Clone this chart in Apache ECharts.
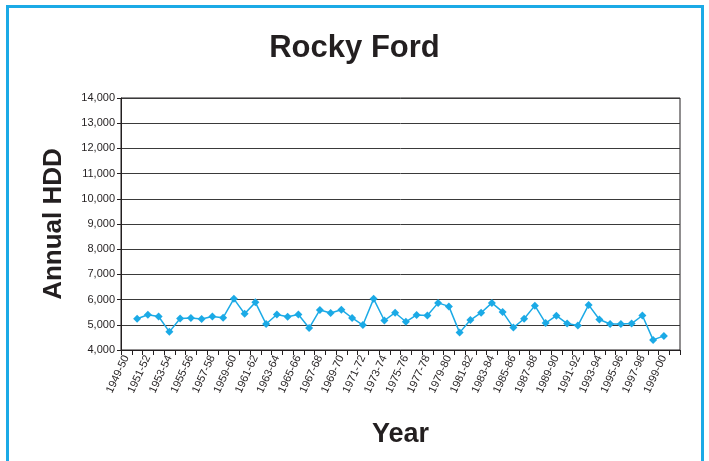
<!DOCTYPE html>
<html>
<head>
<meta charset="utf-8">
<script src="https://cdn.jsdelivr.net/npm/echarts@6/dist/echarts.min.js"></script>
<style>
  html, body { margin: 0; padding: 0; background: #fff; }
  #chart { width: 709px; height: 461px; }
</style>
</head>
<body>
<div id="chart"></div>
<script>
// Heating seasons shown on the category axis
const seasons = [
  '1949-50','1950-51','1951-52','1952-53','1953-54','1954-55','1955-56','1956-57',
  '1957-58','1958-59','1959-60','1960-61','1961-62','1962-63','1963-64','1964-65',
  '1965-66','1966-67','1967-68','1968-69','1969-70','1970-71','1971-72','1972-73',
  '1973-74','1974-75','1975-76','1976-77','1977-78','1978-79','1979-80','1980-81',
  '1981-82','1982-83','1983-84','1984-85','1985-86','1986-87','1987-88','1988-89',
  '1989-90','1990-91','1991-92','1992-93','1993-94','1994-95','1995-96','1996-97',
  '1997-98','1998-99','1999-00','2000-01'
];

// Annual heating degree days (null = no record)
const annualHDD = [
  null, 5240, 5400, 5330, 4720, 5250, 5270, 5230,
  5330, 5280, 6030, 5440, 5890, 5030, 5410, 5320,
  5410, 4870, 5590, 5470, 5600, 5270, 4990, 6030,
  5170, 5480, 5120, 5390, 5370, 5870, 5730, 4690,
  5190, 5480, 5870, 5510, 4890, 5240, 5760, 5070,
  5360, 5050, 4970, 5790, 5210, 5030, 5030, 5050,
  5370, 4400, 4560, null
];

const yMin = 4000, yMax = 14000, yStep = 1000;

const chart = echarts.init(document.getElementById('chart'), null, { renderer: 'canvas' });

const fontFamily = '"Liberation Sans", Arial, sans-serif';
const ink = '#231f20';
const lineBlue = '#1BAAE6';

chart.setOption({
  animation: false,
  backgroundColor: '#ffffff',
  graphic: [{
    type: 'rect',
    shape: { x: 7.5, y: 6.5, width: 695, height: 470 },
    style: { fill: 'none', stroke: lineBlue, lineWidth: 3 },
    silent: true
  }],
  title: {
    text: 'Rocky Ford',
    left: 'center',
    top: 28,
    textStyle: { fontFamily, fontSize: 31, fontWeight: 'bold', color: ink }
  },
  grid: { left: 121, right: 29, top: 98, bottom: 111, containLabel: false,
          show: true, borderColor: ink, borderWidth: 1, backgroundColor: 'transparent' },
  xAxis: {
    type: 'category',
    data: seasons,
    boundaryGap: true,
    name: 'Year',
    nameLocation: 'middle',
    nameGap: 71,
    nameTextStyle: { fontFamily, fontSize: 27, fontWeight: 'bold', color: ink },
    axisLine: { lineStyle: { color: ink, width: 1 } },
    axisTick: { show: true, interval: 0, length: 5, lineStyle: { color: ink } },
    axisLabel: {
      interval: 1,
      rotate: 65,
      fontFamily, fontSize: 11, color: ink, margin: 6
    },
    splitLine: { show: false }
  },
  yAxis: {
    type: 'value',
    min: yMin, max: yMax, interval: yStep,
    name: 'Annual HDD',
    nameLocation: 'middle',
    nameGap: 54,
    nameRotate: 90,
    nameTextStyle: { fontFamily, fontSize: 26, fontWeight: 'bold', color: ink },
    axisLine: { show: true, lineStyle: { color: ink, width: 1 } },
    axisTick: { show: true, length: 4, lineStyle: { color: ink } },
    axisLabel: {
      fontFamily, fontSize: 11, color: ink, margin: 6,
      formatter: v => v.toLocaleString('en-US')
    },
    splitLine: { show: true, lineStyle: { color: '#3a3a3a', width: 1 } }
  },
  series: [{
    type: 'line',
    data: annualHDD,
    connectNulls: false,
    showAllSymbol: true,
    symbol: 'diamond',
    symbolSize: 8,
    lineStyle: { color: lineBlue, width: 1.5 },
    itemStyle: { color: lineBlue }
  }]
});
</script>
</body>
</html>
